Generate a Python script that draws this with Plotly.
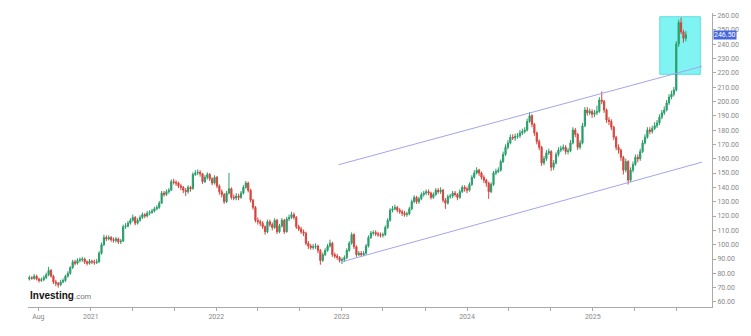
import pandas as pd
import plotly.graph_objects as go

# ---------------- data (weekly candles) ----------------
start_week = "2020-07-06"

opens = [
76, 77, 76.5, 78, 76, 75, 75.5, 77, 79, 82,
78, 74, 73, 72, 74, 75, 78, 80, 84, 88,
87, 89, 89.5, 90, 88, 87, 88.5, 88, 87.5, 88,
94, 100, 105, 104, 105, 103.5, 103, 104, 102, 102.5,
112.5, 113, 115, 117, 119, 115, 117, 119, 121, 120,
122, 122.5, 123.5, 125, 126, 129, 136, 135, 137, 138,
144, 143.5, 143, 141, 140, 138, 137, 140, 139, 149,
150, 150.5, 149.5, 144, 147, 149, 146, 143, 147, 141,
137, 135, 130, 136, 139, 133, 132.5, 134, 133, 136,
140, 143, 138, 131, 126, 117, 116, 115, 112.5, 109,
116, 114, 112, 117, 109, 113, 117, 109, 118, 119,
121, 119, 112.5, 111, 109, 108, 101, 99, 98, 98.5,
99, 96, 89, 93, 96, 99, 101, 93, 92, 91,
89, 89.5, 91, 96, 101, 107, 98.5, 93, 94, 93,
94, 99, 105, 108, 108.5, 107.5, 107, 106.5, 107, 112,
117, 124, 125, 126, 124, 123, 122, 121, 121.5, 125,
130, 133, 130, 132, 135, 136, 137, 136, 133, 135,
138, 137, 138, 131, 129, 133.5, 134, 136, 135, 133,
137, 140, 139, 138, 142, 147, 150, 152, 150, 147,
145, 143, 137, 142, 150, 151, 152, 158, 163, 168,
171, 175, 174.5, 175.5, 176, 178, 179, 180, 186, 190,
184, 178, 172, 168, 157, 160, 164, 165, 154, 157,
163, 166, 167, 168, 165, 165.5, 171, 180, 177, 168,
171, 183, 194, 192, 193, 191, 192, 193, 201, 200,
194, 187, 186, 182, 175, 168, 166, 161, 152, 158,
145, 152, 156, 161, 160, 165, 171, 175, 180, 179,
181, 183, 185, 189, 192, 194, 199, 203, 205, 208,
240, 255, 248.5, 244,
]

highs = [
78.5, 78, 79.5, 79, 77, 77, 78.5, 80.5, 84.5, 83,
79, 75.5, 74, 75.5, 76.5, 79, 81.5, 85, 89.5, 89.5,
90.5, 91, 91.5, 91, 89, 90, 89.5, 89.5, 90, 95.5,
101.5, 107, 106.5, 106.5, 106, 105, 105.5, 105, 104, 114,
115, 116.5, 118.5, 121, 120, 118.5, 120.5, 122.5, 122, 123.5,
124, 125, 126.5, 127.5, 130.5, 137.5, 137.5, 138.5, 139.5, 145.5,
146, 145, 144, 142.5, 141, 139.5, 141.5, 141, 150.5, 152,
152.5, 152, 150, 148.5, 150.5, 150, 147, 148.5, 148, 142,
138.5, 136, 137.5, 150, 140, 135, 136, 135.5, 137.5, 141.5,
144.5, 144, 139, 132, 127, 119, 117.5, 116.5, 113.5, 117.5,
117.5, 115.5, 118.5, 118, 114.5, 118.5, 118, 119.5, 121, 123,
122.5, 120, 114, 112.5, 110.5, 109, 102.5, 100.5, 100.5, 101,
100, 97, 94.5, 97.5, 100.5, 103.5, 102, 94.5, 93.5, 92,
91, 92.5, 97.5, 102.5, 108.5, 108, 99.5, 95.5, 95.5, 95.5,
100.5, 106.5, 109.5, 110, 110, 109, 108.5, 108.5, 113.5, 118.5,
125.5, 127, 128, 127, 125.5, 124.5, 123.5, 123, 126.5, 131.5,
134.5, 134, 133.5, 136.5, 137.5, 138.5, 138.5, 137, 136.5, 139.5,
139.5, 140, 139, 132.5, 135, 135.5, 137.5, 137.5, 136, 138.5,
141.5, 141.5, 140.5, 143.5, 148.5, 152, 154, 153, 151, 148.5,
146, 144, 143.5, 151.5, 153, 154, 159.5, 165, 170, 173,
177, 177, 177.5, 178, 180, 181, 182, 188, 192.5, 191,
185, 179, 173.5, 169, 162, 166, 167, 166, 159, 164.5,
168, 169, 170, 169.5, 167.5, 173, 182, 181.5, 178, 173,
185, 196, 196, 195, 194.5, 194, 197, 203, 207, 201,
195, 189, 187.5, 183, 176, 170, 167, 162, 160, 159,
154, 158, 163, 163, 167, 173, 177, 182, 182, 183,
185.5, 187, 191, 194, 196.5, 201, 205, 207.5, 210, 242,
257, 258.5, 250, 249,
]

lows = [
75, 75.5, 75.5, 75, 73.5, 74, 74.5, 76, 78, 77,
72.5, 71, 70, 71, 73, 74, 77, 79, 83, 85.5,
86, 87.5, 88, 86.5, 85.5, 86, 86.5, 86, 86.5, 87.5,
93, 99, 102.5, 103, 102, 101.5, 101.5, 100.5, 100.5, 102,
111, 112, 114, 116, 113.5, 114, 116, 118, 118.5, 119,
120.5, 121.5, 122.5, 124, 125, 128.5, 133.5, 134, 135.5, 137.5,
142, 141, 139.5, 138, 136, 134, 135.5, 137, 138.5, 148,
148.5, 147.5, 142.5, 143, 145.5, 144.5, 141.5, 142, 139.5, 135,
133, 128.5, 129, 135, 131.5, 131, 131, 131, 132, 135,
139, 136.5, 129.5, 124.5, 115.5, 114, 113, 111, 107, 108,
112.5, 110, 111, 107.5, 108, 112, 107.5, 108.5, 116.5, 118,
117.5, 111, 109.5, 107.5, 106, 99.5, 97, 96.5, 96.5, 97,
94, 86, 88, 92, 95, 98, 91.5, 90.5, 89.5, 87.5,
86.5, 88, 90, 95, 100, 97, 91.5, 92, 91.5, 92,
93, 98, 104, 106.5, 106, 105.5, 105, 105, 106, 111,
116, 122.5, 124, 122.5, 121.5, 120, 119.5, 119.5, 120.5, 124,
129, 128.5, 128.5, 131, 133.5, 134.5, 134.5, 131.5, 132, 134,
135.5, 135.5, 129.5, 125, 128, 132, 132.5, 133.5, 131, 132,
136, 137, 136, 137, 141, 146, 149, 148, 145.5, 143,
140.5, 132, 136, 141, 148.5, 150, 151, 157, 162, 166.5,
170, 173, 172.5, 174, 174.5, 176.5, 177.5, 179, 185, 182,
176, 170, 166, 155, 155.5, 158.5, 162.5, 151.5, 152, 156,
161.5, 164.5, 165.5, 163, 163, 164.5, 170, 175, 166, 166.5,
170, 182, 190, 190.5, 188.5, 189, 190.5, 192, 198, 192,
185, 183.5, 180, 173, 166, 163.5, 158.5, 149, 150.5, 142,
143.5, 150.5, 155, 157.5, 158.5, 164, 170, 174, 177, 177.5,
180, 181.5, 183.5, 187.5, 190.5, 193, 197.5, 201.5, 203.5, 207,
238, 247, 241, 242,
]

closes = [
77, 76.5, 78, 76, 75, 75.5, 77, 79, 82, 78,
74, 73, 72, 74, 75, 78, 80, 84, 88, 87,
89, 89.5, 90, 88, 87, 88.5, 88, 87.5, 88, 94,
100, 105, 104, 105, 103.5, 103, 104, 102, 102.5, 112.5,
113, 115, 117, 119, 115, 117, 119, 121, 120, 122,
122.5, 123.5, 125, 126, 129, 136, 135, 137, 138, 144,
143.5, 143, 141, 140, 138, 137, 140, 139, 149, 150,
150.5, 149.5, 144, 147, 149, 146, 143, 147, 141, 137,
135, 130, 136, 139, 133, 132.5, 134, 133, 136, 140,
143, 138, 131, 126, 117, 116, 115, 112.5, 109, 116,
114, 112, 117, 109, 113, 117, 109, 118, 119, 121,
119, 112.5, 111, 109, 108, 101, 99, 98, 98.5, 99,
96, 89, 93, 96, 99, 101, 93, 92, 91, 89,
89.5, 91, 96, 101, 107, 98.5, 93, 94, 93, 94,
99, 105, 108, 108.5, 107.5, 107, 106.5, 107, 112, 117,
124, 125, 126, 124, 123, 122, 121, 121.5, 125, 130,
133, 130, 132, 135, 136, 137, 136, 133, 135, 138,
137, 138, 131, 129, 133.5, 134, 136, 135, 133, 137,
140, 139, 138, 142, 147, 150, 152, 150, 147, 145,
143, 137, 142, 150, 151, 152, 158, 163, 168, 171,
175, 174.5, 175.5, 176, 178, 179, 180, 186, 190, 184,
178, 172, 168, 157, 160, 164, 165, 154, 157, 163,
166, 167, 168, 165, 165.5, 171, 180, 177, 168, 171,
183, 194, 192, 193, 191, 192, 193, 201, 200, 194,
187, 186, 182, 175, 168, 166, 161, 152, 158, 145,
152, 156, 161, 160, 165, 171, 175, 180, 179, 181,
183, 185, 189, 192, 194, 199, 203, 205, 208, 240,
255, 248.5, 244, 246.5,
]

# channel lines (date, price)
upper_dates = ["2022-12-23", "2025-11-15"]
upper_prices = [155.8, 224.5]
lower_dates = ["2023-01-01", "2025-11-15"]
lower_prices = [88.0, 157.6]

# highlighted box
box_dates = ["2025-07-15", "2025-11-10"]
box_prices = [218.9, 259.1]

last_price = 246.5

y_ticks = list(range(60, 261, 10))
x_tick_dates = ["2020-08-01", "2021-01-01", "2021-05-01", "2021-09-01",
                "2022-01-01", "2022-05-01", "2022-09-01",
                "2023-01-01", "2023-05-01", "2023-09-01",
                "2024-01-01", "2024-05-01", "2024-09-01",
                "2025-01-01", "2025-05-01", "2025-09-01"]
x_tick_text = ["Aug", "2021", "", "", "2022", "", "", "2023", "", "",
               "2024", "", "", "2025", "", ""]

x_range = ["2020-07-02", "2025-12-14"]
y_range = [56.5, 261.7]

# ---------------- figure ----------------
dates = pd.date_range(start_week, periods=len(closes), freq="7D")

UP = "#2a9d6b"
DOWN = "#d6453d"

fig = go.Figure()
fig.add_trace(go.Candlestick(
    x=dates, open=opens, high=highs, low=lows, close=closes,
    increasing=dict(line=dict(color=UP, width=1), fillcolor=UP),
    decreasing=dict(line=dict(color=DOWN, width=1), fillcolor=DOWN),
    whiskerwidth=0, hoverinfo="skip", showlegend=False,
))
for d, p in ((upper_dates, upper_prices), (lower_dates, lower_prices)):
    fig.add_trace(go.Scatter(x=d, y=p, mode="lines",
                             line=dict(color="#a4a4ec", width=1),
                             hoverinfo="skip", showlegend=False))

fig.add_shape(type="rect", xref="x", yref="y",
              x0=box_dates[0], x1=box_dates[1], y0=box_prices[0], y1=box_prices[1],
              fillcolor="#80f3f3", line=dict(color="#5fdede", width=1), layer="below")

fig.add_annotation(xref="paper", yref="y", x=1, y=last_price, xanchor="left",
                   yanchor="middle", xshift=1, text=f"{last_price:.2f}", showarrow=False,
                   bgcolor="#4767dd", font=dict(color="white", size=7, family="Roboto"),
                   borderpad=0)

fig.add_annotation(xref="paper", yref="paper", x=0, y=0.04, xanchor="left", yanchor="middle",
                   text="<b>Investing</b><span style='color:#777;font-size:8px'>.com</span>",
                   showarrow=False, font=dict(color="#111", size=10, family="Liberation Sans"))

fig.update_layout(
    width=751, height=336,
    margin=dict(l=28, r=36, t=13, b=29),
    paper_bgcolor="white", plot_bgcolor="white",
    showlegend=False,
    hovermode=False,
    font=dict(family="Roboto", size=7, color="#888"),
)
fig.update_xaxes(
    type="date", range=x_range, rangeslider=dict(visible=False),
    showgrid=False, zeroline=False,
    showline=True, linecolor="#aaa", linewidth=1,
    ticks="outside", ticklen=3, tickcolor="#aaa",
    tickvals=x_tick_dates, ticktext=x_tick_text,
    tickfont=dict(size=7, color="#888"),
)
fig.update_yaxes(
    range=y_range, side="right", showgrid=False, zeroline=False,
    showline=True, linecolor="#aaa", linewidth=1,
    ticks="outside", ticklen=3, tickcolor="#aaa",
    tickvals=y_ticks, ticktext=[f"{v:.2f}" for v in y_ticks],
    tickfont=dict(size=7, color="#888"),
)

fig.write_html("out.html")
